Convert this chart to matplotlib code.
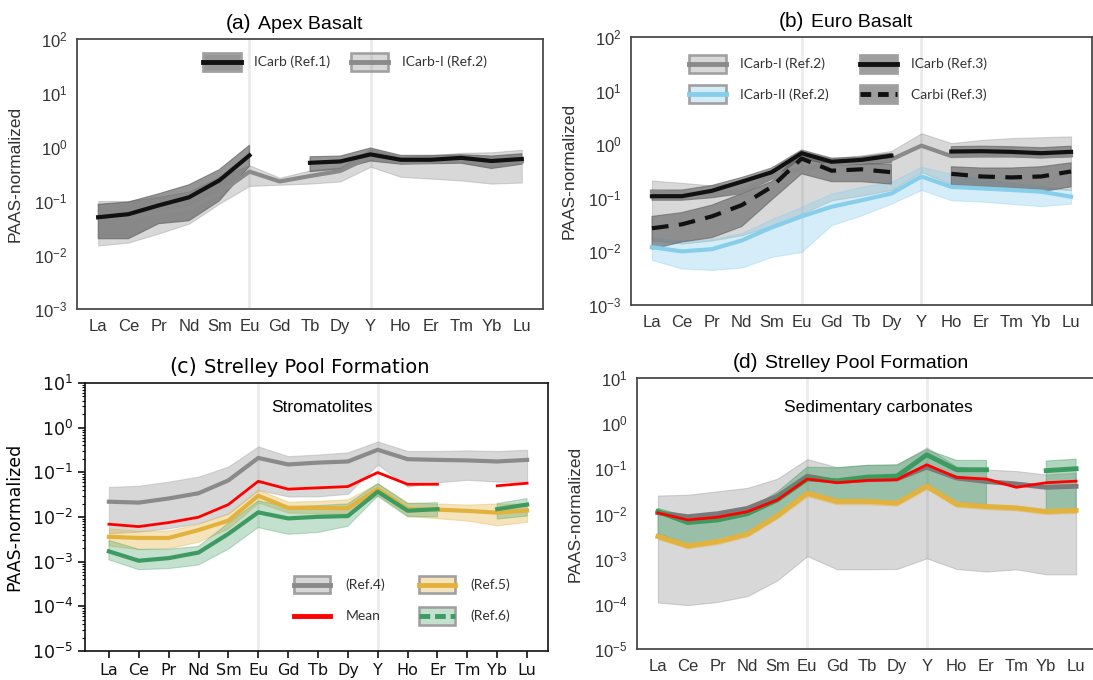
import numpy as np
import matplotlib
matplotlib.use("Agg")
import matplotlib.pyplot as plt
from matplotlib.patches import Patch
from matplotlib.lines import Line2D
from matplotlib.legend_handler import HandlerLine2D
from matplotlib.ticker import NullLocator, LogLocator, NullFormatter

nan = np.nan

# ---------------------------------------------------------------- data
elements = ["La", "Ce", "Pr", "Nd", "Sm", "Eu", "Gd", "Tb", "Dy", "Y",
            "Ho", "Er", "Tm", "Yb", "Lu"]

# (a) Apex Basalt
apex_ref1_mean = [0.050, 0.057, 0.083, 0.117, 0.24, 0.70, nan, 0.51, 0.54, 0.73, 0.58, 0.58, 0.63, 0.55, 0.60]
apex_ref1_hi = [0.087, 0.096, 0.136, 0.20, 0.38, 1.08, nan, 0.66, 0.68, 0.96, 0.70, 0.70, 0.72, 0.68, 0.75]
apex_ref1_lo = [0.020, 0.020, 0.038, 0.043, 0.10, 0.44, nan, 0.35, 0.39, 0.55, 0.48, 0.49, 0.50, 0.40, 0.48]
apex_ref2_mean = [0.050, 0.050, 0.060, 0.073, 0.14, 0.35, 0.23, 0.29, 0.36, 0.66, 0.53, 0.54, 0.56, 0.51, 0.54]
apex_ref2_hi = [0.10, 0.10, 0.12, 0.15, 0.28, 0.46, 0.27, 0.37, 0.42, 0.91, 0.66, 0.70, 0.78, 0.80, 0.89]
apex_ref2_lo = [0.015, 0.017, 0.025, 0.038, 0.089, 0.19, 0.20, 0.21, 0.23, 0.43, 0.28, 0.26, 0.24, 0.21, 0.22]

# (b) Euro Basalt
euro_icarb3_mean = [0.107, 0.107, 0.135, 0.20, 0.30, 0.68, 0.47, 0.51, 0.61, nan, 0.73, 0.74, 0.72, 0.68, 0.72]
euro_icarb3_hi = [0.14, 0.14, 0.17, 0.24, 0.36, 0.78, 0.55, 0.58, 0.68, nan, 0.90, 0.92, 0.90, 0.86, 0.92]
euro_icarb3_lo = [0.09, 0.09, 0.10, 0.12, 0.22, 0.55, 0.40, 0.42, 0.45, nan, 0.58, 0.58, 0.58, 0.55, 0.58]
euro_carbi_mean = [0.027, 0.032, 0.045, 0.073, 0.16, 0.54, 0.32, 0.34, 0.30, nan, 0.28, 0.25, 0.24, 0.25, 0.31]
euro_carbi_hi = [0.045, 0.053, 0.073, 0.12, 0.20, 0.72, 0.44, 0.44, 0.42, nan, 0.38, 0.36, 0.36, 0.38, 0.45]
euro_carbi_lo = [0.011, 0.015, 0.018, 0.029, 0.091, 0.28, 0.20, 0.20, 0.18, nan, 0.16, 0.15, 0.14, 0.13, 0.16]
euro_icarb1_mean = [0.13, 0.12, 0.12, 0.13, 0.25, 0.35, 0.42, 0.47, 0.52, 0.94, 0.60, 0.62, 0.62, 0.60, 0.62]
euro_icarb1_hi = [0.21, 0.19, 0.17, 0.20, 0.33, 0.72, 0.54, 0.62, 0.75, 1.6, 1.05, 1.2, 1.3, 1.35, 1.4]
euro_icarb1_lo = [0.016, 0.014, 0.016, 0.02, 0.03, 0.05, 0.09, 0.11, 0.14, 0.30, 0.18, 0.17, 0.16, 0.15, 0.14]
euro_icarb2_mean = [0.012, 0.010, 0.011, 0.016, 0.028, 0.045, 0.068, 0.09, 0.12, 0.25, 0.16, 0.15, 0.14, 0.13, 0.105]
euro_icarb2_hi = [0.018, 0.016, 0.017, 0.022, 0.04, 0.068, 0.12, 0.16, 0.2, 0.38, 0.28, 0.23, 0.19, 0.17, 0.14]
euro_icarb2_lo = [0.0069, 0.0048, 0.0045, 0.005, 0.0079, 0.0098, 0.031, 0.047, 0.078, 0.14, 0.09, 0.085, 0.077, 0.07, 0.078]

# (c) Strelley Pool Formation, stromatolites
strom_ref4_mean = [0.022, 0.021, 0.026, 0.034, 0.066, 0.21, 0.15, 0.165, 0.175, 0.32, 0.197, 0.19, 0.185, 0.175, 0.19]
strom_ref4_hi = [0.047, 0.05, 0.062, 0.08, 0.135, 0.38, 0.23, 0.25, 0.28, 0.49, 0.30, 0.30, 0.31, 0.30, 0.32]
strom_ref4_lo = [0.0043, 0.0047, 0.0056, 0.0072, 0.012, 0.04, 0.029, 0.029, 0.033, 0.15, 0.048, 0.06, 0.068, 0.062, 0.062]
strom_mean = [0.0069, 0.0061, 0.0075, 0.0099, 0.019, 0.063, 0.042, 0.045, 0.048, 0.099, 0.054, 0.054, nan, 0.050, 0.057]
strom_ref5_mean = [0.0036, 0.0034, 0.0034, 0.0051, 0.0083, 0.030, 0.016, 0.016, 0.0157, 0.042, 0.015, 0.0146, 0.0137, 0.0125, 0.014]
strom_ref5_hi = [0.0056, 0.0049, 0.005, 0.0070, 0.012, 0.041, 0.022, 0.023, 0.025, 0.057, 0.021, 0.020, 0.019, 0.020, 0.020]
strom_ref5_lo = [0.0023, 0.0019, 0.002, 0.0028, 0.0056, 0.021, 0.0126, 0.012, 0.012, 0.031, 0.0106, 0.0094, 0.0083, 0.0065, 0.0078]
strom_ref6_mean = [0.0017, 0.00105, 0.0012, 0.0016, 0.0042, 0.0127, 0.0093, 0.0101, 0.0105, 0.037, 0.0138, 0.015, nan, 0.015, 0.019]
strom_ref6_hi = [0.003, 0.0019, 0.0019, 0.0022, 0.0073, 0.023, 0.017, 0.018, 0.0197, 0.056, 0.02, 0.021, nan, 0.02, 0.026]
strom_ref6_lo = [0.0011, 0.00066, 0.0007, 0.00084, 0.0019, 0.0058, 0.0041, 0.0045, 0.0062, 0.029, 0.0101, 0.0101, nan, 0.009, 0.0105]

# (d) Strelley Pool Formation, sedimentary carbonates
sed_ref4_mean = [0.0104, 0.0085, 0.0099, 0.013, 0.024, 0.067, 0.051, 0.056, 0.058, 0.106, 0.061, 0.051, 0.045, 0.038, 0.040]
sed_ref4_hi = [0.025, 0.026, 0.031, 0.037, 0.059, 0.16, 0.106, 0.12, 0.12, 0.29, 0.11, 0.094, 0.087, 0.073, 0.08]
sed_ref4_lo = [0.000107, 0.0000935, 0.00011, 0.000148, 0.00033, 0.00114, 0.00058, 0.00058, 0.00059, 0.00102, 0.00059, 0.00052, 0.00058, 0.00045, 0.00045]
sed_mean = [0.0103, 0.0072, 0.0083, 0.011, 0.020, 0.058, 0.048, 0.054, 0.056, 0.12, 0.063, 0.058, 0.038, 0.048, 0.052]
sed_ref6_mean = [0.011, 0.0063, 0.0072, 0.0099, 0.020, 0.058, 0.053, 0.064, 0.067, 0.20, 0.093, 0.093, nan, 0.089, 0.098]
sed_ref6_hi = [0.013, 0.0085, 0.0095, 0.012, 0.03, 0.106, 0.103, 0.116, 0.12, 0.26, 0.15, 0.15, nan, 0.145, 0.16]
sed_ref6_lo = [0.0036, 0.002, 0.0024, 0.0034, 0.0086, 0.026, 0.017, 0.017, 0.017, 0.040, 0.0173, 0.0156, nan, 0.011, 0.011]
sed_ref5_mean = [0.0031, 0.0019, 0.0024, 0.0035, 0.0089, 0.028, 0.0186, 0.0186, 0.017, 0.040, 0.016, 0.0143, 0.0133, 0.011, 0.0117]
sed_ref5_hi = [0.0035, 0.0022, 0.0027, 0.0040, 0.010, 0.032, 0.021, 0.021, 0.019, 0.046, 0.018, 0.016, 0.015, 0.0125, 0.013]
sed_ref5_lo = [0.0027, 0.0017, 0.0021, 0.0031, 0.0078, 0.024, 0.016, 0.016, 0.015, 0.035, 0.014, 0.0125, 0.0117, 0.0097, 0.0103]

exp_basalt = [-3, -2, -1, 0, 1, 2]
exp_spf = [-5, -4, -3, -2, -1, 0, 1]

# ---------------------------------------------------------------- style
plt.rcParams["font.family"] = ["Liberation Sans", "DejaVu Sans"]
plt.rcParams["legend.frameon"] = False

W, H = 1093, 680
fig = plt.figure(figsize=(W / 100, H / 100), dpi=100)


def rect(l, t, r, b):
    return [l / W, 1 - b / H, (r - l) / W, (b - t) / H]


x = np.arange(len(elements))
LEG_FONT = {"family": "Lato", "size": 10}

C_BLACK = "#111111"
C_GREY = "#8a8a8a"
C_BLUE = "#87ceeb"
C_GOLD = "#e3b23c"
C_GREEN = "#3d9a60"
C_RED = "#ff0000"
EDGE = "#a0a0a0"


class CenteredLine(HandlerLine2D):
    """Legend line drawn through the vertical middle of the handle box."""

    def create_artists(self, legend, orig_handle, xdescent, ydescent,
                       width, height, fontsize, trans):
        return super().create_artists(legend, orig_handle, xdescent, 2 * ydescent,
                                      width, height, fontsize, trans)


HMAP = {Line2D: CenteredLine()}


def log_labels(exps):
    return [rf"$\mathregular{{10^{{{k}}}}}$" for k in exps]


def soft_axes(ax, exps):
    ax.set_yscale("log")
    ax.set_ylim(10.0 ** exps[0], 10.0 ** exps[-1])
    ax.set_xlim(-0.7, 14.7)
    ax.set_xticks(x, elements)
    ax.set_yticks([10.0 ** k for k in exps], log_labels(exps))
    ax.yaxis.set_minor_locator(NullLocator())
    ax.tick_params(length=0, labelsize=12, colors="#333333", pad=7)
    for s in ax.spines.values():
        s.set_color("#444444")
        s.set_linewidth(1.25)
    for xv in (5, 9):
        ax.axvline(xv, color="#ebebeb", lw=2, zorder=0)
    ax.set_ylabel("PAAS-normalized", fontsize=12.5, color="#333333", labelpad=8)


def band(ax, lo, hi, color, alpha, z=1):
    ax.fill_between(x, lo, hi, color=color, alpha=alpha, lw=0.8, zorder=z)


def titled(ax, tag, title, family=None):
    kw = {"fontsize": 14, "pad": 7}
    if family:
        kw["fontfamily"] = family
    t = ax.set_title(title, **kw)
    ax.annotate(tag, xy=(0, 0), xycoords=t, xytext=(-5, 0), textcoords="offset points",
                ha="right", va="bottom", fontsize=15, fontfamily=family or "Liberation Sans")


def handle(face, alpha, line_color, ls="-"):
    p = Patch(facecolor=face, alpha=alpha, edgecolor=EDGE, lw=1.8)
    pe = Patch(facecolor="none", edgecolor=EDGE, lw=1.8)
    ln = Line2D([], [], color=line_color, lw=3.5, linestyle=ls)
    return (p, pe, ln)


# ---------------------------------------------------------------- (a)
ax = fig.add_axes(rect(77, 39, 543, 309))
soft_axes(ax, exp_basalt)
band(ax, apex_ref2_lo, apex_ref2_hi, "grey", 0.3)
band(ax, apex_ref1_lo, apex_ref1_hi, "#5e5e5e", 0.65)
ax.plot(x, apex_ref2_mean, color=C_GREY, lw=3, zorder=3)
ax.plot(x, apex_ref1_mean, color=C_BLACK, lw=3, zorder=4)
titled(ax, "(a)", "Apex Basalt")
ax.legend([handle("#5e5e5e", 0.65, C_BLACK), handle("grey", 0.3, C_GREY)],
          ["ICarb (Ref.1)", "ICarb-I (Ref.2)"], ncol=2, prop=LEG_FONT,
          loc="center", bbox_to_anchor=(0.575, 0.915), handlelength=2.7,
          handleheight=1.6, handletextpad=0.95, columnspacing=1.5,
          labelcolor="#333333", handler_map=HMAP)

# ---------------------------------------------------------------- (b)
ax = fig.add_axes(rect(631, 37, 1092, 305))
soft_axes(ax, exp_basalt)
band(ax, euro_icarb1_lo, euro_icarb1_hi, "grey", 0.3)
band(ax, euro_icarb2_lo, euro_icarb2_hi, C_BLUE, 0.35)
band(ax, euro_carbi_lo, euro_carbi_hi, "#5e5e5e", 0.6)
band(ax, euro_icarb3_lo, euro_icarb3_hi, "#5e5e5e", 0.6)
ax.plot(x, euro_icarb1_mean, color=C_GREY, lw=3, zorder=3)
ax.plot(x, euro_icarb2_mean, color=C_BLUE, lw=3, zorder=3)
ax.plot(x, euro_carbi_mean, color=C_BLACK, lw=3, ls=(0, (4, 2.5)), zorder=4)
ax.plot(x, euro_icarb3_mean, color=C_BLACK, lw=3, zorder=4)
titled(ax, "(b)", "Euro Basalt")
ax.legend([handle("grey", 0.3, C_GREY), handle(C_BLUE, 0.35, C_BLUE),
           handle("#5e5e5e", 0.6, C_BLACK), handle("#5e5e5e", 0.6, C_BLACK, (0, (2.2, 1.4)))],
          ["ICarb-I (Ref.2)", "ICarb-II (Ref.2)", "ICarb (Ref.3)", "Carbi (Ref.3)"],
          ncol=2, prop=LEG_FONT, loc="center", bbox_to_anchor=(0.449, 0.843),
          handlelength=2.7, handleheight=1.6, handletextpad=1.0, columnspacing=2.2,
          labelspacing=0.9, labelcolor="#333333", handler_map=HMAP)

# ---------------------------------------------------------------- (c)
ax = fig.add_axes(rect(85, 383, 548, 651))
ax.set_yscale("log")
ax.set_ylim(10.0 ** exp_spf[0], 10.0 ** exp_spf[-1])
ax.set_xlim(-0.8, 14.7)
ax.set_xticks(x, elements, fontfamily="DejaVu Sans", fontsize=11.5)
ax.set_yticks([10.0 ** k for k in exp_spf], log_labels(exp_spf),
              fontfamily="DejaVu Sans", fontsize=12.5)
ax.yaxis.set_minor_locator(LogLocator(subs=np.arange(2, 10)))
ax.yaxis.set_minor_formatter(NullFormatter())
ax.tick_params(which="major", length=5, width=1.2, colors="#111111")
ax.tick_params(which="minor", length=2.5, width=0.8)
for s in ax.spines.values():
    s.set_color("#111111")
    s.set_linewidth(1.2)
for xv in (5, 9):
    ax.axvline(xv, color="#ebebeb", lw=2, zorder=0)
ax.set_ylabel("PAAS-normalized", fontsize=12.5, fontfamily="DejaVu Sans", labelpad=6)
band(ax, strom_ref4_lo, strom_ref4_hi, "#b0b0b0", 0.5)
band(ax, strom_ref5_lo, strom_ref5_hi, C_GOLD, 0.35, z=2)
band(ax, strom_ref6_lo, strom_ref6_hi, C_GREEN, 0.3, z=2)
ax.plot(x, strom_ref4_mean, color=C_GREY, lw=3, zorder=3)
ax.plot(x, strom_ref5_mean, color=C_GOLD, lw=3, zorder=3)
ax.plot(x, strom_ref6_mean, color=C_GREEN, lw=3, zorder=3)
ax.plot(x, strom_mean, color=C_RED, lw=2, zorder=5)
titled(ax, "(c)", "Strelley Pool Formation", family="DejaVu Sans")
ax.text(0.512, 0.91, "Stromatolites", transform=ax.transAxes, ha="center",
        va="center", fontsize=12.5)
mean_h = Line2D([], [], color=C_RED, lw=3.5)
ax.legend([handle("#b0b0b0", 0.5, C_GREY), mean_h, handle(C_GOLD, 0.35, C_GOLD),
           handle(C_GREEN, 0.3, C_GREEN, (0, (2.2, 1.0)))],
          ["(Ref.4)", "Mean", "(Ref.5)", "(Ref.6)"], ncol=2, prop=LEG_FONT,
          loc="center", bbox_to_anchor=(0.685, 0.19), handlelength=2.6,
          handleheight=1.6, handletextpad=1.1, columnspacing=2.4,
          labelspacing=0.95, labelcolor="#333333", handler_map=HMAP)

# ---------------------------------------------------------------- (d)
ax = fig.add_axes(rect(637, 378, 1097, 649))
soft_axes(ax, exp_spf)
band(ax, sed_ref4_lo, sed_ref4_hi, "grey", 0.3)
band(ax, sed_ref6_lo, sed_ref6_hi, C_GREEN, 0.4, z=2)
band(ax, sed_ref5_lo, sed_ref5_hi, C_GOLD, 0.35, z=2)
ax.plot(x, sed_ref4_mean, color="#7a7a7a", lw=3.5, zorder=3)
ax.plot(x, sed_ref5_mean, color=C_GOLD, lw=3.5, zorder=3)
ax.plot(x, sed_ref6_mean, color=C_GREEN, lw=3.5, zorder=4)
ax.plot(x, sed_mean, color=C_RED, lw=2, zorder=5)
titled(ax, "(d)", "Strelley Pool Formation")
ax.text(0.524, 0.89, "Sedimentary carbonates", transform=ax.transAxes, ha="center",
        va="center", fontsize=12.5)

fig.savefig("out.png", dpi=100)
